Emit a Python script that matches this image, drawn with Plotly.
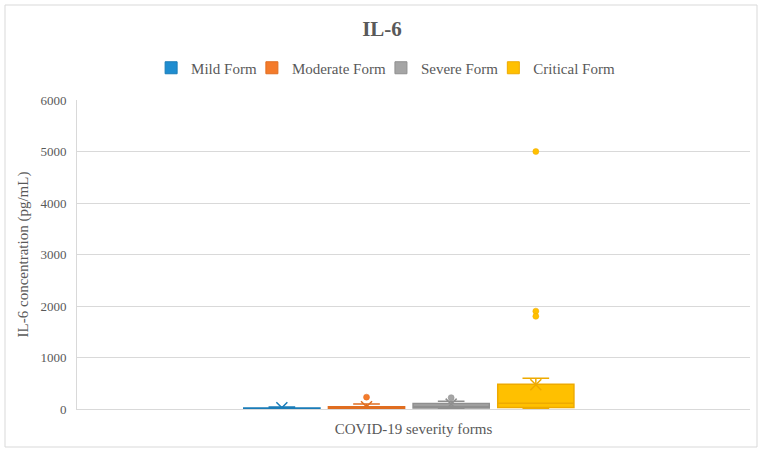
import plotly.graph_objects as go

categories = ["Mild Form", "Moderate Form", "Severe Form", "Critical Form"]
colors = ["#1f8dd0", "#f47b2b", "#a5a5a5", "#ffc000"]
edge_colors = ["#1a7cb8", "#e06d20", "#8f8f8f", "#eeaa00"]
q1 = [3, 5, 20, 30]
median = [8, 15, 50, 110]
q3 = [20, 45, 105, 480]
lowerfence = [0, 0, 0, 0]
upperfence = [40, 95, 150, 595]
means = [25, 45, 95, 470]
outliers = [[], [230], [220], [5000, 1900, 1800]]
x_title = "COVID-19 severity forms"
y_title = "IL-6 concentration (pg/mL)"
y_ticks = [0, 1000, 2000, 3000, 4000, 5000, 6000]

FONT = "Liberation Serif, Times New Roman, serif"
GREY = "#595959"

fig = go.Figure()
for i, name in enumerate(categories):
    fig.add_trace(go.Box(
        x=[i], q1=[q1[i]], median=[median[i]], q3=[q3[i]],
        lowerfence=[lowerfence[i]], upperfence=[upperfence[i]],
        width=0.9, whiskerwidth=0.35, boxpoints=False,
        fillcolor=colors[i], line=dict(color=edge_colors[i], width=1.5),
        name=name, showlegend=False, hoverinfo="skip",
    ))
    fig.add_trace(go.Scatter(
        x=[i], y=[means[i]], mode="markers",
        marker=dict(symbol="x-thin-open", size=11, color=edge_colors[i],
                    line=dict(color=edge_colors[i], width=1.5)),
        showlegend=False, hoverinfo="skip",
    ))
    if outliers[i]:
        fig.add_trace(go.Scatter(
            x=[i] * len(outliers[i]), y=outliers[i], mode="markers",
            marker=dict(symbol="circle", size=6, color=colors[i],
                        line=dict(color=edge_colors[i], width=0.5)),
            showlegend=False, hoverinfo="skip",
        ))
    # legend entry
    fig.add_trace(go.Scatter(
        x=[None], y=[None], mode="markers", name=name,
        marker=dict(symbol="square", size=12, color=colors[i],
                    line=dict(color=edge_colors[i], width=1)),
    ))

fig.update_layout(
    width=764, height=453,
    margin=dict(l=77, r=14, t=100, b=44),
    paper_bgcolor="white", plot_bgcolor="white",
    font=dict(family=FONT, color=GREY),
    title=dict(text="<b>IL-6</b>", x=0.5, xanchor="center", y=(453 - 29) / 453, yanchor="middle",
               font=dict(family=FONT, size=21, color=GREY)),
    legend=dict(orientation="h", x=0.466, xanchor="center",
                y=(409 - 68) / 309, yanchor="middle",
                font=dict(family=FONT, size=15, color=GREY),
                itemwidth=30, tracegroupgap=0, indentation=-10),
    boxmode="overlay",
    xaxis=dict(range=[-2.42, 5.53], showticklabels=False, showgrid=False,
               zeroline=False, showline=True, linecolor="#d9d9d9", linewidth=1,
               title=dict(text=x_title, standoff=14,
                          font=dict(family=FONT, size=15, color=GREY))),
    yaxis=dict(range=[0, 6000], tickvals=y_ticks, showgrid=True,
               gridcolor="#d9d9d9", gridwidth=1, zeroline=False,
               showline=True, linecolor="#d9d9d9",
               tickfont=dict(family=FONT, size=13, color=GREY),
               ticklabelstandoff=7,
               title=dict(text=y_title, standoff=8,
                          font=dict(family=FONT, size=15, color=GREY))),
    shapes=[dict(type="rect", xref="paper", yref="paper",
                 x0=(5 - 77) / 673, x1=(757 - 77) / 673,
                 y0=(409 - 447) / 309, y1=(409 - 5) / 309,
                 line=dict(color="#d9d9d9", width=1), fillcolor="rgba(0,0,0,0)",
                 layer="below")],
)

fig.write_html("out.html", config={"displayModeBar": False},
               post_script="document.body.style.margin='0px';")
